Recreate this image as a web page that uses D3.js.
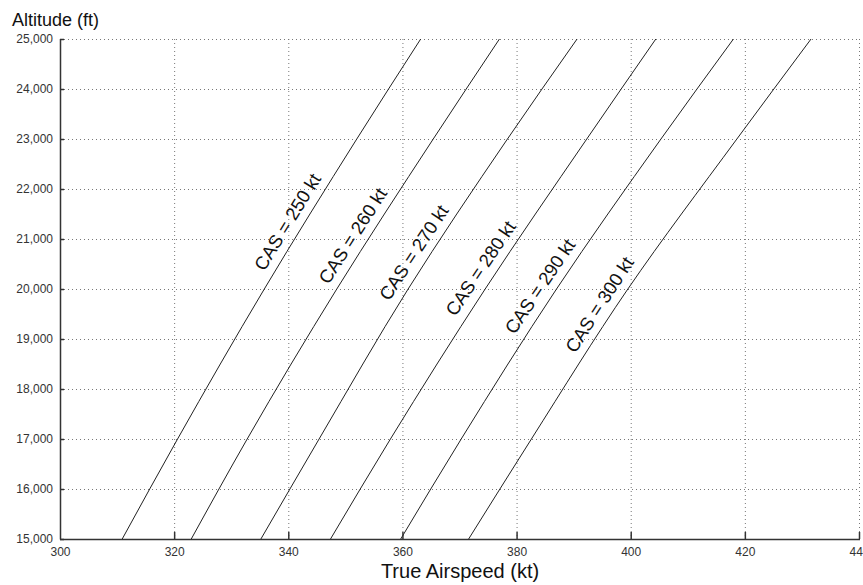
<!DOCTYPE html>
<html><head><meta charset="utf-8">
<script src="https://cdn.jsdelivr.net/npm/d3@7"></script>
<style>body{margin:0;background:#fff}svg{display:block}</style>
</head><body><svg id="c" width="863" height="585"></svg>
<script>
const altitudes = [15000, 17000, 20000, 23000, 25000];
const casLabels = [250, 260, 270, 280, 290, 300];
const tas250 = [310.9, 320.6, 335.8, 352.0, 363.2];
const tas260 = [323.0, 332.8, 348.5, 365.4, 377.0];
const tas270 = [335.2, 345.4, 361.0, 378.4, 390.6];
const tas280 = [347.4, 357.9, 374.5, 392.3, 404.4];
const tas290 = [359.7, 370.3, 387.0, 405.3, 418.0];
const tas300 = [371.6, 382.6, 399.5, 418.6, 431.6];
const labelAlt = [21180, 20900, 20560, 20240, 19880, 19520];
const xTicks = [300, 320, 340, 360, 380, 400, 420, 440];
const yTicks = [15000, 16000, 17000, 18000, 19000, 20000, 21000, 22000, 23000, 24000, 25000];
const series = [tas250, tas260, tas270, tas280, tas290, tas300];

const svg = d3.select('#c');
const L = 60, R = 859, T = 39, B = 539;
const x = d3.scaleLinear().domain([300, 440]).range([L, R]);
const y = d3.scaleLinear().domain([15000, 25000]).range([B, T]);
const font = 'Arial, "Liberation Sans", sans-serif';

// grid
const g = svg.append('g');
g.selectAll('.vg').data(xTicks.slice(1)).join('line')
  .attr('x1', d => x(d) + 0.5).attr('x2', d => x(d) + 0.5)
  .attr('y1', T).attr('y2', B)
  .attr('stroke', '#777').attr('stroke-dasharray', '1,3');
g.selectAll('.hg').data(yTicks.slice(1)).join('line')
  .attr('y1', d => y(d) + 0.5).attr('y2', d => y(d) + 0.5)
  .attr('x1', L).attr('x2', R)
  .attr('stroke', '#777').attr('stroke-dasharray', '1,3');

// curves
const line = d3.line().x(d => x(d[0])).y(d => y(d[1])).curve(d3.curveMonotoneY);
series.forEach((s, i) => {
  svg.append('path').datum(s.map((v, j) => [v, altitudes[j]]))
    .attr('d', line).attr('fill', 'none').attr('stroke', '#222').attr('stroke-width', 1);
});

// labels
series.forEach((s, i) => {
  const interp = d3.scaleLinear().domain(altitudes).range(s);
  const a = labelAlt[i];
  const px = x(interp(a)), py = y(a);
  const a2 = a + 500;
  const px2 = x(interp(a2)), py2 = y(a2);
  const ang = Math.atan2(py2 - py, px2 - px) * 180 / Math.PI;
  svg.append('text')
    .attr('transform', `translate(${px},${py}) rotate(${ang})`)
    .attr('y', -9).attr('text-anchor', 'middle')
    .attr('font-family', font).attr('font-size', 18.5).attr('fill', '#111')
    .text(`CAS = ${casLabels[i]} kt`);
});

// axes
const ax = svg.append('g').attr('transform', `translate(0,${B + 0.5})`)
  .call(d3.axisBottom(x).tickValues(xTicks).tickSize(0).tickPadding(8).tickFormat(d3.format('d')));
ax.select('.domain').remove();
ax.selectAll('text').attr('font-family', font).attr('font-size', 12).attr('fill', '#333');
svg.selectAll('.xt').data(xTicks.slice(1)).join('line')
  .attr('x1', d => x(d) + 0.5).attr('x2', d => x(d) + 0.5)
  .attr('y1', B).attr('y2', B - 7).attr('stroke', '#333').attr('stroke-width', 1.5);

const ay = svg.append('g').attr('transform', `translate(${L},0)`)
  .call(d3.axisLeft(y).tickValues(yTicks).tickSize(0).tickPadding(7).tickFormat(d3.format(',')));
ay.select('.domain').remove();
ay.selectAll('text').attr('font-family', font).attr('font-size', 12).attr('fill', '#333');
svg.selectAll('.yt').data(yTicks).join('line')
  .attr('x1', L).attr('x2', L + 4)
  .attr('y1', d => y(d) + 0.5).attr('y2', d => y(d) + 0.5)
  .attr('stroke', '#333').attr('stroke-width', 1.5);

svg.append('line').attr('x1', L + 0.5).attr('x2', L + 0.5).attr('y1', T).attr('y2', B + 0.5)
  .attr('stroke', '#333').attr('stroke-width', 1.5);
svg.append('line').attr('x1', L).attr('x2', R + 1).attr('y1', B + 0.5).attr('y2', B + 0.5)
  .attr('stroke', '#333').attr('stroke-width', 1.5);

svg.append('text').attr('x', 12).attr('y', 26).attr('font-family', font).attr('font-size', 18)
  .attr('fill', '#111').text('Altitude (ft)');
svg.append('text').attr('x', 460).attr('y', 578).attr('text-anchor', 'middle')
  .attr('font-family', font).attr('font-size', 20).attr('fill', '#111').text('True Airspeed (kt)');
</script></body></html>
